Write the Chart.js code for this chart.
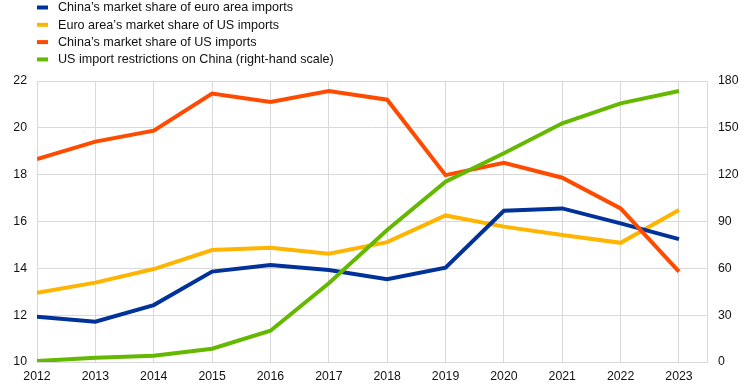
<!DOCTYPE html>
<html>
<head>
<meta charset="utf-8">
<script src="https://cdn.jsdelivr.net/npm/chart.js@4"></script>
<style>
  html, body { margin: 0; padding: 0; background: #fff; }
  #wrap { width: 745px; height: 389px; }
</style>
</head>
<body>
<div id="wrap"><canvas id="myChart" width="745" height="389"></canvas></div>
<script>
var years = [2012, 2013, 2014, 2015, 2016, 2017, 2018, 2019, 2020, 2021, 2022, 2023];
var chinaEuroShare = [11.93, 11.72, 12.43, 13.86, 14.14, 13.93, 13.54, 14.03, 16.46, 16.56, 15.92, 15.25];
var euroUsShare = [12.96, 13.39, 13.97, 14.78, 14.88, 14.62, 15.12, 16.26, 15.78, 15.42, 15.09, 16.49];
var chinaUsShare = [18.67, 19.41, 19.88, 21.46, 21.1, 21.57, 21.2, 17.98, 18.51, 17.87, 16.56, 13.86];
var usRestrictions = [0.6, 2.8, 4.0, 8.5, 20, 50.4, 84.6, 115.5, 133.7, 152.9, 165.7, 173.6];
var leftTicks = [10, 12, 14, 16, 18, 20, 22];
var rightTicks = [0, 30, 60, 90, 120, 150, 180];

function points(vals) {
    return years.map(function (y, i) { return { x: y, y: vals[i] }; });
}

var fontFamily = "'Liberation Sans', Arial, sans-serif";
var gridColor = "#d9d9d9";

// legend drawn as a stacked list in the top-left corner
var stackedLegend = {
    id: 'stackedLegend',
    afterDraw: function (chart) {
        var ctx = chart.ctx;
        ctx.save();
        ctx.font = "12.6px " + fontFamily;
        ctx.textBaseline = 'middle';
        chart.data.datasets.forEach(function (ds, i) {
            var y = 7.5 + i * 17.3;
            ctx.fillStyle = ds.borderColor;
            ctx.fillRect(37, y - 2, 11, 4);
            ctx.fillStyle = "#111";
            ctx.fillText(ds.label, 58, y + 0.5);
        });
        ctx.restore();
    }
};

var ctx = document.getElementById('myChart').getContext('2d');
var myChart = new Chart(ctx, {
    type: 'line',
    data: {
        datasets: [{
            label: "China\u2019s market share of euro area imports",
            data: points(chinaEuroShare),
            borderColor: "#003299",
            yAxisID: 'y',
            order: 2
        }, {
            label: "Euro area\u2019s market share of US imports",
            data: points(euroUsShare),
            borderColor: "#ffb400",
            yAxisID: 'y',
            order: 3
        }, {
            label: "China\u2019s market share of US imports",
            data: points(chinaUsShare),
            borderColor: "#ff4b00",
            yAxisID: 'y',
            order: 1
        }, {
            label: "US import restrictions on China (right-hand scale)",
            data: points(usRestrictions),
            borderColor: "#65b800",
            yAxisID: 'y1',
            order: 0
        }]
    },
    options: {
        responsive: false,
        animation: false,
        layout: { padding: { top: 81, left: 0, right: 0, bottom: 0 } },
        elements: {
            line: { borderWidth: 4, tension: 0, borderCapStyle: 'butt', borderJoinStyle: 'miter' },
            point: { radius: 0 }
        },
        plugins: {
            legend: { display: false },
            tooltip: { enabled: false }
        },
        scales: {
            x: {
                type: 'linear',
                min: 2012,
                max: 2023.48,
                grid: { color: gridColor, drawTicks: false },
                border: { color: gridColor },
                afterFit: function (s) { s.height = 27; },
                afterBuildTicks: function (s) {
                    s.ticks = years.map(function (y) { return { value: y }; }).concat([{ value: 2023.48 }]);
                },
                ticks: {
                    padding: 7,
                    maxRotation: 0,
                    autoSkip: false,
                    color: "#111",
                    font: { family: fontFamily, size: 12.3 },
                    callback: function (v) { return Number.isInteger(v) ? String(v) : ''; }
                }
            },
            y: {
                position: 'left',
                min: 10,
                max: 22,
                grid: { color: gridColor, drawTicks: false },
                border: { color: gridColor },
                afterFit: function (s) { s.width = 37; },
                afterBuildTicks: function (s) {
                    s.ticks = leftTicks.map(function (v) { return { value: v }; });
                },
                ticks: {
                    padding: 10,
                    color: "#111",
                    font: { family: fontFamily, size: 12.3 }
                }
            },
            y1: {
                position: 'right',
                min: 0,
                max: 180,
                grid: { drawOnChartArea: false, drawTicks: false },
                border: { color: gridColor },
                afterFit: function (s) { s.width = 38; },
                afterBuildTicks: function (s) {
                    s.ticks = rightTicks.map(function (v) { return { value: v }; });
                },
                ticks: {
                    padding: 11,
                    color: "#111",
                    font: { family: fontFamily, size: 12.3 }
                }
            }
        }
    },
    plugins: [stackedLegend]
});
</script>
</body>
</html>
